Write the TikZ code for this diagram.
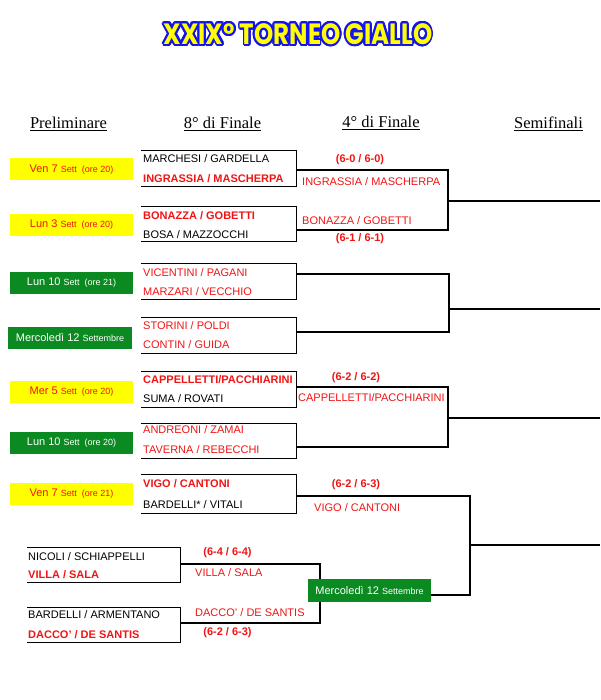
\documentclass[tikz,border=0pt]{standalone}
\usepackage{fontspec}
\setmainfont{Liberation Sans}
\newfontfamily\hdfont{Liberation Serif}
\newfontfamily\ttlfont{Poppins}
\usepackage[copies]{contour}
\contourlength{1.8pt}
\contournumber{24}
\definecolor{tred}{RGB}{240,20,20}
\definecolor{tgreen}{RGB}{12,138,34}
\definecolor{tyellow}{RGB}{255,255,0}
\definecolor{tblue}{RGB}{20,20,235}
\newcommand{\smtxt}[1]{{\fontsize{9}{11}\selectfont #1}}

\begin{document}
\begin{tikzpicture}
		[x=1pt,y=-1pt,
		lines/.style={line width=1.2pt,black},
		title/.style={font=\ttlfont\bfseries\fontsize{24}{28}\selectfont},
		head/.style={font=\hdfont\fontsize{16.5}{19}\selectfont},
		team/.style={anchor=west,inner sep=0pt,font=\fontsize{11}{13}\selectfont},
		win/.style={team,text=tred,font=\fontsize{11}{13}\selectfont\bfseries},
		open/.style={team,text=tred},
		score/.style={inner sep=0pt,text=tred,font=\fontsize{11}{13}\selectfont\bfseries},
		pair/.style={minimum width=155pt,minimum height=35pt,inner sep=0pt},
		ybox/.style={fill=tyellow,text=tred,minimum width=123pt,minimum height=22pt,inner sep=0pt,font=\fontsize{11}{13}\selectfont},
		gbox/.style={ybox,fill=tgreen,text=white}]

		\useasboundingbox (0,0) rectangle (600,700);

		% title and column heads
		\node[title] (title) at (298,35) {\scalebox{1.02}[1.22]{\contour{tblue}{\textcolor{tyellow}{XXIX° TORNEO GIALLO}}}};
		\node[head] (h1) at (68.5,124) {\underline{Preliminare}};
		\node[head] (h2) at (222.5,124) {\underline{8° di Finale}};
		\node[head] (h3) at (381,123) {\underline{4° di Finale}};
		\node[head] (h4) at (548.5,124) {\underline{Semifinali}};

		% preliminare
		\node[ybox] (d1) at (71.5,169.5) {Ven 7 \smtxt{Sett~~(ore 20)}};
		\node[ybox] (d2) at (71.5,225) {Lun 3 \smtxt{Sett~~(ore 20)}};
		\node[gbox] (d3) at (71.5,283) {Lun 10 \smtxt{Sett~~(ore 21)}};
		\node[gbox,minimum width=124pt] (d4) at (70,337.5) {Mercoledì 12 \smtxt{Settembre}};
		\node[ybox] (d5) at (71.5,392) {Mer 5 \smtxt{Sett~~(ore 20)}};
		\node[gbox] (d6) at (71.5,443) {Lun 10 \smtxt{Sett~~(ore 20)}};
		\node[ybox] (d7) at (71.5,494) {Ven 7 \smtxt{Sett~~(ore 21)}};

		% 8 di finale
		\node[pair] (p1) at (218.5,168.5) {};
		\node[pair] (p2) at (218.5,224) {};
		\node[pair] (p3) at (218.5,281.5) {};
		\node[pair] (p4) at (218.5,335.5) {};
		\node[pair] (p5) at (218.5,389.5) {};
		\node[pair] (p6) at (218.5,441) {};
		\node[pair,minimum height=38pt] (p7) at (218.5,494) {};
		\node[pair,minimum width=153pt] (pA) at (103.5,565) {};
		\node[pair,minimum width=153pt] (pB) at (103.5,625) {};

		\foreach \p in {p1,p2,p3,p4,p5,p6,p7,pA,pB}
			\draw[lines] (\p.north west) -- (\p.north east) -- (\p.south east) -- (\p.south west);

		\node[team] (t1a) at (143,159) {MARCHESI / GARDELLA};
		\node[win]  (t1b) at (143,179) {INGRASSIA / MASCHERPA};
		\node[win]  (t2a) at (143,216) {BONAZZA / GOBETTI};
		\node[team] (t2b) at (143,235) {BOSA / MAZZOCCHI};
		\node[open] (t3a) at (143,273) {VICENTINI / PAGANI};
		\node[open] (t3b) at (143,292) {MARZARI / VECCHIO};
		\node[open] (t4a) at (143,326) {STORINI / POLDI};
		\node[open] (t4b) at (143,345) {CONTIN / GUIDA};
		\node[win]  (t5a) at (143,380) {CAPPELLETTI/PACCHIARINI};
		\node[team] (t5b) at (143,399) {SUMA / ROVATI};
		\node[open] (t6a) at (143,430) {ANDREONI / ZAMAI};
		\node[open] (t6b) at (143,450) {TAVERNA / REBECCHI};
		\node[win]  (t7a) at (143,484) {VIGO / CANTONI};
		\node[team] (t7b) at (143,505) {BARDELLI* / VITALI};
		\node[team] (tAa) at (28,557) {NICOLI / SCHIAPPELLI};
		\node[win]  (tAb) at (28,575) {VILLA / SALA};
		\node[team] (tBa) at (28,615) {BARDELLI / ARMENTANO};
		\node[win]  (tBb) at (28,635) {DACCO' / DE SANTIS};

		% 4 di finale
		\coordinate (j1) at (448,201);
		\coordinate (j2) at (449,309);
		\coordinate (j3) at (448,418);
		\coordinate (j4) at (470,545);
		\coordinate (jA) at (320,593);
		\coordinate (s1) at (600,201);
		\coordinate (s2) at (600,309);
		\coordinate (s3) at (600,418);
		\coordinate (s4) at (600,545);

		\node[gbox,minimum height=23pt] (m4) at (369.5,590.5) {};

		\draw[lines] (p1.east |- 0,170) -| (j1) |- (p2.east |- 0,230);
		\draw[lines] (p3.east |- 0,274) -| (j2) |- (p4.east |- 0,332);
		\draw[lines] (p5.east |- 0,387) -| (j3) |- (p6.east |- 0,447);
		\draw[lines] (p7.east |- 0,496) -| (j4) |- (m4.east |- 0,595);
		\draw[lines] (pA.east |- 0,564) -| (jA) |- (pB.east |- 0,623);

		\node[gbox,minimum height=23pt] at (m4) {Mercoledì 12 \smtxt{Settembre}};

		% semifinali
		\draw[lines] (j1) -- (s1);
		\draw[lines] (j2) -- (s2);
		\draw[lines] (j3) -- (s3);
		\draw[lines] (j4) -- (s4);

		\node[score] (r1s) at (360,160) {(6-0 / 6-0)};
		\node[open]  (r1)  at (302,182) {INGRASSIA / MASCHERPA};
		\node[open]  (r2)  at (302,221) {BONAZZA / GOBETTI};
		\node[score] (r2s) at (360,239) {(6-1 / 6-1)};
		\node[score] (r3s) at (356,378) {(6-2 / 6-2)};
		\node[open]  (r3)  at (298,398) {CAPPELLETTI/PACCHIARINI};
		\node[score] (r4s) at (356,485) {(6-2 / 6-3)};
		\node[open]  (r4)  at (314,508) {VIGO / CANTONI};
		\node[score] (rAs) at (227.5,553) {(6-4 / 6-4)};
		\node[open]  (rA)  at (195,573) {VILLA / SALA};
		\node[open]  (rB)  at (195,613) {DACCO' / DE SANTIS};
		\node[score] (rBs) at (227.5,633) {(6-2 / 6-3)};

	\end{tikzpicture}
\end{document}
